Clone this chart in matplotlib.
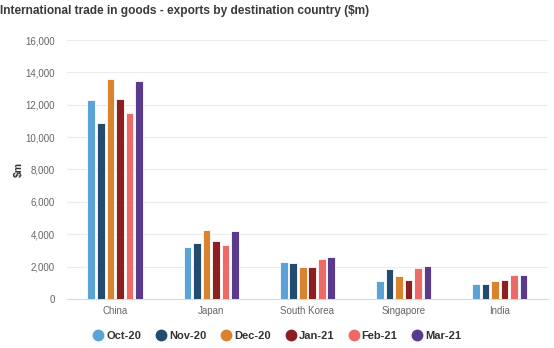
import matplotlib
matplotlib.use("Agg")
import matplotlib.pyplot as plt
import numpy as np
from matplotlib.lines import Line2D

categories = ["China", "Japan", "South Korea", "Singapore", "India"]
series = ["Oct-20", "Nov-20", "Dec-20", "Jan-21", "Feb-21", "Mar-21"]
oct20 = [12300, 3200, 2280, 1110, 930]
nov20 = [10850, 3440, 2200, 1870, 930]
dec20 = [13600, 4260, 2000, 1400, 1110]
jan21 = [12350, 3600, 1950, 1150, 1190]
feb21 = [11500, 3350, 2490, 1900, 1500]
mar21 = [13450, 4200, 2610, 2060, 1500]
values = [oct20, nov20, dec20, jan21, feb21, mar21]
colors = ["#5BA3D6", "#234B72", "#D9832E", "#8B1F22", "#EE6A66", "#5A3A8C"]
yticks = [0, 2000, 4000, 6000, 8000, 10000, 12000, 14000, 16000]

plt.rcParams['font.family'] = ['Liberation Sans', 'DejaVu Sans']
fig = plt.figure(figsize=(5.54, 3.48), dpi=100)
ax = fig.add_axes([0.121, 0.141, 0.868, 0.744])

x = np.arange(len(categories))
slot = 0.099
bw = 0.08
for i, (s, v, c) in enumerate(zip(series, values, colors)):
    ax.bar(x + (i - 2.5) * slot, v, width=bw, color=c, edgecolor="#ffffff",
           linewidth=0.6, label=s, zorder=3)

ax.set_xlim(-0.5, len(categories) - 0.5)
ax.set_ylim(0, 16000)
ax.set_yticks(yticks)
ax.set_yticklabels([f"{t:,}" for t in yticks])
ax.set_xticks(x)
ax.set_xticklabels(categories)
ax.tick_params(axis="both", length=0, labelsize=7, colors="#666666")
ax.tick_params(axis="y", pad=9)
ax.tick_params(axis="x", pad=5)
ax.grid(axis="y", color="#ebebf0", linewidth=0.8, zorder=0)
for sp in ["top", "right", "left"]:
    ax.spines[sp].set_visible(False)
ax.spines["bottom"].set_color("#d8d8e8")
ax.spines["bottom"].set_linewidth(0.8)
ax.set_ylabel("$m", fontsize=7.5, fontweight="bold", color="#333333", labelpad=1)

fig.text(0.0, 0.968, "International trade in goods - exports by destination country ($m)",
         fontsize=8.6, fontweight="bold", color="#3a3a3a", ha="left", va="center")

handles = [Line2D([0], [0], marker="o", linestyle="", markersize=7.5,
                  markerfacecolor=c, markeredgecolor=c) for c in colors]
leg = fig.legend(handles, series, loc="center", bbox_to_anchor=(0.499, 0.034),
                 ncol=6, frameon=False, fontsize=8, handletextpad=0.1,
                 columnspacing=1.2, handlelength=1.2)
for t in leg.get_texts():
    t.set_fontweight("bold")
    t.set_color("#333333")

fig.savefig("out.png", dpi=100, facecolor="white")
